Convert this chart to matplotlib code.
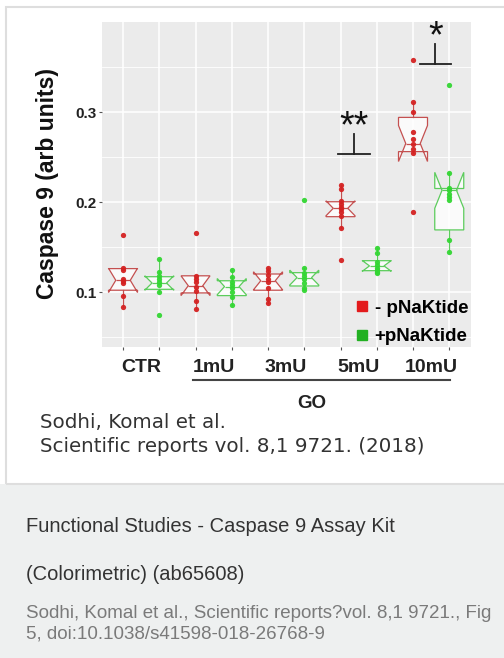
import numpy as np
import matplotlib.pyplot as plt
from matplotlib.lines import Line2D
from matplotlib.patches import Rectangle

W, H = 504, 658

groups = ['CTR', '1mU', '3mU', '5mU', '10mU']
series = ['- pNaKtide', '+pNaKtide']
colors = ['#d42222', '#33d633']
box_edges = ['#c45050', '#5ccc5c']

# caspase 9 readings per box, order: CTR-, CTR+, 1mU-, 1mU+, ... 10mU+
points = [
    [0.163, 0.127, 0.124, 0.115, 0.112, 0.110, 0.096, 0.083],
    [0.137, 0.122, 0.118, 0.114, 0.111, 0.108, 0.100, 0.075],
    [0.166, 0.118, 0.115, 0.111, 0.106, 0.101, 0.090, 0.081],
    [0.124, 0.117, 0.111, 0.108, 0.105, 0.100, 0.095, 0.086],
    [0.127, 0.123, 0.119, 0.114, 0.111, 0.105, 0.092, 0.088],
    [0.202, 0.127, 0.121, 0.118, 0.114, 0.110, 0.104, 0.102],
    [0.219, 0.214, 0.201, 0.198, 0.195, 0.192, 0.189, 0.184, 0.171, 0.136],
    [0.149, 0.143, 0.133, 0.130, 0.127, 0.125, 0.122, 0.121],
    [0.358, 0.311, 0.300, 0.278, 0.270, 0.264, 0.259, 0.255, 0.189],
    [0.330, 0.232, 0.216, 0.213, 0.209, 0.206, 0.202, 0.158, 0.144],
]

# box statistics
q1 = [0.102, 0.103, 0.099, 0.096, 0.102, 0.1067, 0.1837, 0.1237, 0.256, 0.169]
med = [0.113, 0.110, 0.107, 0.106, 0.1125, 0.116, 0.193, 0.129, 0.265, 0.213]
q3 = [0.126, 0.117, 0.118, 0.1125, 0.120, 0.1215, 0.2003, 0.1348, 0.294, 0.215]
notch_lo = [0.0996, 0.102, 0.096, 0.097, 0.1025, 0.1077, 0.1847, 0.123, 0.245, 0.193]
notch_hi = [0.1264, 0.118, 0.118, 0.115, 0.1225, 0.1243, 0.2013, 0.135, 0.285, 0.233]
whis_lo = [0.083, 0.100, 0.081, 0.086, 0.088, 0.102, 0.171, 0.121, 0.255, 0.144]
whis_hi = [0.127, 0.137, 0.118, 0.124, 0.127, 0.127, 0.219, 0.149, 0.311, 0.232]

# significance marks
sig_x = [7.38, 9.62]
sig_y = [0.253, 0.353]
sig_text = ['**', '*']

plt.rcParams['font.family'] = ['Liberation Sans', 'DejaVu Sans']

fig = plt.figure(figsize=(W / 100, H / 100), dpi=100)

# card background
fig.add_artist(Rectangle((0, 0), 1, (H - 484) / H, transform=fig.transFigure,
                         facecolor='#eef0f0', edgecolor='none', zorder=-5))
fig.add_artist(Rectangle((6 / W, (H - 484) / H), (520 - 6) / W, (484 - 7) / H,
                         transform=fig.transFigure, facecolor='none',
                         edgecolor='#dedede', lw=1.5, zorder=-4))

ax = fig.add_axes([102 / W, (H - 347) / H, (471 - 102) / W, (347 - 22) / H])
ax.set_facecolor('#ebebeb')
for s in ax.spines.values():
    s.set_visible(False)

positions = np.arange(1, len(points) + 1)
stats = []
for i in range(len(points)):
    stats.append(dict(med=med[i], q1=q1[i], q3=q3[i], whislo=whis_lo[i],
                      whishi=whis_hi[i], cilo=notch_lo[i], cihi=notch_hi[i],
                      fliers=[]))

bp = ax.bxp(stats, positions=positions, widths=0.8, shownotches=True,
            showcaps=False, showfliers=False, patch_artist=True,
            manage_ticks=False)
for i, box in enumerate(bp['boxes']):
    c = box_edges[i % 2]
    box.set_facecolor((1, 1, 1, 0.8))
    box.set_edgecolor(c)
    box.set_linewidth(0.9)
    box.set_zorder(2)
    bp['medians'][i].set_color(c)
    bp['medians'][i].set_linewidth(0.9)
for j, wh in enumerate(bp['whiskers']):
    wh.set_color(box_edges[(j // 2) % 2])
    wh.set_linewidth(0.9)

for i, vals in enumerate(points):
    ax.plot(np.full(len(vals), positions[i]), vals, 'o', color=colors[i % 2],
            ms=3.8, mew=0, alpha=0.95, zorder=3)

# significance brackets
for x, y, t in zip(sig_x, sig_y, sig_text):
    ax.plot([x - 0.44, x + 0.44], [y, y], color='#222222', lw=1.3, zorder=4)
    ax.plot([x, x], [y, y + 0.023], color='#222222', lw=1.3, zorder=4)
    ax.text(x, y + 0.03, t, ha='center', va='center', fontsize=27,
            color='#111111', zorder=4)

ax.set_xlim(0.42, 10.6)
ax.set_ylim(0.0389, 0.4)
ax.set_xticks(positions)
ax.set_xticklabels([])
ax.set_yticks([0.1, 0.2, 0.3])
ax.set_yticklabels(['0.1', '0.2', '0.3'], fontweight='bold', fontsize=11)
ax.set_yticks([0.05, 0.15, 0.25, 0.35], minor=True)
ax.tick_params(axis='both', which='major', length=2.5, color='#555555',
               width=0.8, pad=1.5, labelcolor='#222222')
ax.tick_params(axis='y', which='minor', length=0)
ax.grid(which='major', color='white', lw=1.1)
ax.grid(which='minor', axis='y', color='white', lw=0.6)
ax.set_axisbelow(True)

# group labels under each pair
for k, g in enumerate(groups):
    ax.text(2 * k + 1.5, -0.062, g, transform=ax.get_xaxis_transform(),
            ha='center', va='center', fontsize=14, fontweight='bold',
            color='#222222')
ax.plot([2.93, 10.03], [-0.1015, -0.1015], transform=ax.get_xaxis_transform(),
        color='#444444', lw=1.5, clip_on=False)
fig.text(312 / W, 1 - 403 / H, 'GO', ha='center', va='center', fontsize=13.5,
         fontweight='bold', color='#222222')

fig.text(48 / W, 1 - 184 / H, 'Caspase 9 (arb units)', rotation=90,
         ha='center', va='center', fontsize=16.5, fontweight='bold',
         color='#111111')

handles = [Line2D([], [], marker='s', ls='none', color=c, ms=7.5) for c in
           ['#e31a1c', '#22b022']]
ax.legend(handles, series, loc='center left', bbox_to_anchor=(0.64, 0.075),
          frameon=False, handlelength=0.7, handletextpad=0.35,
          labelspacing=0.6, prop={'weight': 'bold', 'size': 13.5})

# citation inside the card
fig.text(40 / W, 1 - 423 / H, 'Sodhi, Komal et al.', ha='left', va='center',
         fontsize=14.3, family='DejaVu Sans', color='#333333')
fig.text(40 / W, 1 - 447 / H, 'Scientific reports vol. 8,1 9721. (2018)',
         ha='left', va='center', fontsize=14.3, family='DejaVu Sans',
         color='#333333')

# caption area
fig.text(26 / W, 1 - 527 / H, 'Functional Studies - Caspase 9 Assay Kit',
         ha='left', va='center', fontsize=14.5, color='#333333')
fig.text(26 / W, 1 - 574 / H, '(Colorimetric) (ab65608)',
         ha='left', va='center', fontsize=14.5, color='#333333')
fig.text(26 / W, 1 - 614 / H,
         'Sodhi, Komal et al., Scientific reports?vol. 8,1 9721., Fig',
         ha='left', va='center', fontsize=13.5, color='#7a7a7a')
fig.text(26 / W, 1 - 634 / H, '5, doi:10.1038/s41598-018-26768-9',
         ha='left', va='center', fontsize=13.5, color='#7a7a7a')

fig.savefig('out.png', dpi=100, facecolor='white')
